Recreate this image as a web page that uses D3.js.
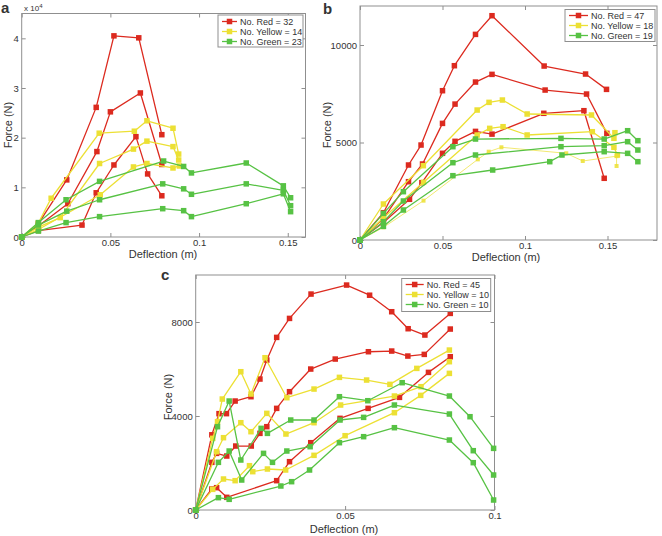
<!DOCTYPE html>
<html><head><meta charset="utf-8">
<script src="https://cdn.jsdelivr.net/npm/d3@7"></script>
<style>
body{margin:0;background:#fff}
svg{display:block}
text{font-family:"Liberation Sans",Arial,Helvetica,sans-serif;fill:#333}
</style>
</head><body>
<svg id="chart" width="662" height="536"></svg>
<script>
// ---------------- DATA ----------------
// Panel a (Force in N)
const aRed = [
  [[0,0],[0.0094,2700],[0.0254,11500],[0.042,26100],[0.052,40500],[0.066,40100],[0.079,20600]],
  [[0,0],[0.0094,2200],[0.026,6700],[0.0424,17200],[0.05,25200],[0.0669,29000],[0.079,14600]],
  [[0,0],[0.0094,1300],[0.034,2400],[0.042,8900],[0.052,14500],[0.0644,20200],[0.071,12700],[0.079,8300]]
];
const aYellow = [
  [[0,0],[0.0094,2800],[0.0166,7800],[0.0437,20900],[0.0635,21300],[0.0706,23400],[0.0853,21900],[0.0885,16700]],
  [[0,0],[0.0094,2000],[0.0217,3900],[0.0439,14800],[0.063,17700],[0.0706,19300],[0.0853,18200],[0.0885,15500]],
  [[0,0],[0.0094,1500],[0.0443,8500],[0.063,14100],[0.0706,14800],[0.0853,13900],[0.0889,14300]]
];
const aGreen = [
  [[0,0],[0.0094,2900],[0.025,7500],[0.0439,11200],[0.08,15300],[0.0913,14200],[0.0957,12900],[0.1266,14900],[0.1475,10300],[0.1516,7900]],
  [[0,0],[0.0094,2400],[0.0254,5200],[0.0439,7500],[0.0795,10700],[0.0913,9700],[0.0957,8600],[0.1266,10700],[0.1475,9400],[0.1516,6300]],
  [[0,0],[0.0094,1200],[0.025,2900],[0.0439,4100],[0.0795,5700],[0.0913,5300],[0.0957,4100],[0.1266,6700],[0.1475,8700],[0.1516,5100]]
];
const aLegend = ["No. Red = 32","No. Yellow = 14","No. Green = 23"];
const aXTicks = [0,0.05,0.1,0.15];
const aYTicks = [0,10000,20000,30000,40000];

// Panel b
const bRed = [
  [[0,0],[0.0142,1400],[0.0294,3846],[0.037,4870],[0.05,7656],[0.0572,8938],[0.07,10545],[0.08,11502],[0.1116,8921],[0.1367,8511],[0.1494,7725]],
  [[0,0],[0.0142,1100],[0.0294,2990],[0.0379,3897],[0.05,5980],[0.0576,6970],[0.07,8100],[0.08,8494],[0.1122,7690],[0.1373,7485],[0.1496,5469]],
  [[0,0],[0.0142,900],[0.03,2087],[0.0375,2940],[0.05,4446],[0.0576,5060],[0.07,5570],[0.08,5430],[0.1114,6497],[0.1357,6631],[0.148,3164]]
];
const bYellow = [
  [[0,0],[0.0142,1846],[0.0384,3811],[0.071,6665],[0.0782,7058],[0.0863,7178],[0.1013,6462],[0.1403,6410],[0.1539,5215],[0.1545,5503]],
  [[0,0],[0.0142,1145],[0.0385,2958],[0.071,5383],[0.0786,5725],[0.0867,5810],[0.1013,5385],[0.1408,5554],[0.1539,4754],[0.156,4359]],
  [[0,0],[0.0142,650],[0.0385,2017],[0.0714,4136],[0.078,4528],[0.0857,4754],[0.125,4446],[0.135,4051],[0.1555,4300],[0.1555,3795]]
];
const bGreen = [
  [[0,0],[0.0142,1367],[0.0263,2478],[0.0563,4785],[0.07,5178],[0.1218,5212],[0.148,5178],[0.1622,5605],[0.1684,5093]],
  [[0,0],[0.0142,940],[0.0263,2000],[0.0563,3965],[0.07,4358],[0.1218,4785],[0.148,4836],[0.1622,5042],[0.1684,4614]],
  [[0,0],[0.0142,700],[0.0263,1538],[0.0563,3298],[0.0804,3589],[0.115,4016],[0.1224,4358],[0.148,4529],[0.1622,4443],[0.1684,4016]]
];
const bLegend = ["No. Red = 47","No. Yellow = 18","No. Green = 19"];
const bXTicks = [0,0.05,0.1,0.15];
const bYTicks = [0,5000,10000];

// Panel c
const cRed = [
  [[0,0],[0.0054,3200],[0.0078,4100],[0.0103,4100],[0.0132,4637],[0.0185,4821],[0.0215,5573],[0.0238,6381],[0.0271,7345],[0.0314,8153],[0.0386,9189],[0.0505,9572],[0.0582,9140],[0.0656,8437],[0.0711,7714],[0.0767,7445],[0.0852,8366]],
  [[0,0],[0.0054,2028],[0.007,2410],[0.0104,2297],[0.0134,2722],[0.0186,2722],[0.0215,3261],[0.0238,3545],[0.0271,4325],[0.0314,5034],[0.0385,5998],[0.0467,6423],[0.0578,6735],[0.0656,6764],[0.071,6551],[0.0765,6622],[0.0852,7700]],
  [[0,0],[0.0054,893],[0.007,950],[0.0104,539],[0.0271,1248],[0.0314,2056],[0.0385,2864],[0.0483,3900],[0.0577,4325],[0.0682,4793],[0.0779,5856],[0.0852,6523]]
];
const cYellow = [
  [[0,0],[0.0057,3049],[0.0073,3758],[0.0089,4722],[0.0151,5885],[0.0185,4935],[0.0232,6480],[0.0305,4779],[0.0396,5147],[0.0481,5644],[0.0572,5530],[0.065,5346],[0.074,6026],[0.0849,6806]],
  [[0,0],[0.007,2481],[0.0093,3077],[0.0151,3715],[0.0185,3332],[0.0238,4112],[0.0302,3233],[0.0396,3715],[0.0485,4467],[0.0665,4850],[0.0754,5247],[0.0849,6310]],
  [[0,0],[0.0057,879],[0.0093,1319],[0.0132,1248],[0.018,1886],[0.0191,1631],[0.024,1744],[0.0301,1702],[0.0396,2326],[0.05,3162],[0.0665,4140],[0.0753,4878],[0.0849,5814]]
];
const cGreen = [
  [[0,0],[0.0073,3545],[0.0112,4637],[0.0151,2127],[0.0219,3474],[0.024,3261],[0.0318,3829],[0.0396,3829],[0.0481,4821],[0.0576,4651],[0.0691,5417],[0.0849,4850],[0.0918,3970],[0.0997,2623]],
  [[0,0],[0.0076,2028],[0.0112,2510],[0.0154,1276],[0.0227,2410],[0.0257,2028],[0.0305,2510],[0.0383,2694],[0.0483,3829],[0.0562,3942],[0.0665,4467],[0.0849,4084],[0.0929,2524],[0.0997,1489]],
  [[0,0],[0.0076,525],[0.0112,454],[0.0285,1021],[0.0321,1205],[0.0381,1702],[0.0481,2864],[0.0562,3120],[0.0665,3502],[0.0849,2978],[0.0929,2014],[0.0997,425]]
];
const cLegend = ["No. Red = 45","No. Yellow = 10","No. Green = 10"];
const cXTicks = [0,0.05,0.1];
const cYTicks = [0,4000,8000];

const xLabel = "Deflection (m)";
const yLabel = "Force (N)";

// ---------------- STYLE ----------------
const COL = {red:"#dc2a1f", yellow:"#ece034", green:"#57c244"};
const FRAME = "#8f8f8f";

const svg = d3.select("#chart");

function drawPanel(o){
  const x = d3.scaleLinear().domain(o.xDomain).range([o.left,o.right]);
  const y = d3.scaleLinear().domain(o.yDomain).range([o.bottom,o.top]);
  const g = svg.append("g");
  const fx = d => String(d);
  const fy = o.yFormat || (d => String(d));

  const styleAxis = sel => {
    sel.select(".domain").remove();
    sel.selectAll(".tick line").attr("stroke",FRAME);
    sel.selectAll(".tick text").style("font-size","9.5px").attr("fill","#333");
  };
  g.append("g").attr("transform",`translate(0,${o.bottom})`)
    .call(d3.axisBottom(x).tickValues(o.xTicks).tickSize(-4).tickPadding(2).tickFormat(fx)).call(styleAxis);
  g.append("g").attr("transform",`translate(0,${o.top})`)
    .call(d3.axisTop(x).tickValues(o.xTicks).tickSize(-4).tickFormat("")).call(styleAxis);
  g.append("g").attr("transform",`translate(${o.left},0)`)
    .call(d3.axisLeft(y).tickValues(o.yTicks).tickSize(-4).tickPadding(3).tickFormat(fy)).call(styleAxis);
  g.append("g").attr("transform",`translate(${o.right},0)`)
    .call(d3.axisRight(y).tickValues(o.yTicks).tickSize(-4).tickFormat("")).call(styleAxis);

  g.append("rect").attr("x",o.left).attr("y",o.top)
    .attr("width",o.right-o.left).attr("height",o.bottom-o.top)
    .attr("fill","none").attr("stroke",FRAME).attr("stroke-width",1);

  const line = d3.line().x(d=>x(d[0])).y(d=>y(d[1]));
  o.groups.forEach(gr => {
    gr.series.forEach((s,i) => {
      const thin = gr.thin && gr.thin[i];
      const sw = thin ? 0.7 : 1.3;
      const ms = thin ? 4 : 5.5;
      g.append("path").datum(s).attr("d",line).attr("fill","none")
        .attr("stroke",gr.color).attr("stroke-width",sw).attr("stroke-linejoin","round");
      g.selectAll(null).data(s).enter().append("rect")
        .attr("x",d=>x(d[0])-ms/2).attr("y",d=>y(d[1])-ms/2)
        .attr("width",ms).attr("height",ms).attr("fill",gr.color)
        .attr("opacity", thin ? 0.85 : 1);
    });
  });

  // legend
  const L = o.legend;
  g.append("rect").attr("x",L.x).attr("y",L.y).attr("width",L.w).attr("height",L.h)
    .attr("fill","#fff").attr("stroke",FRAME).attr("stroke-width",1);
  L.labels.forEach((t,i) => {
    const yy = L.y + L.first + i*L.step;
    const c = L.colors[i];
    g.append("line").attr("x1",L.x+4).attr("x2",L.x+L.lineLen+4).attr("y1",yy).attr("y2",yy)
      .attr("stroke",c).attr("stroke-width",1.3);
    g.append("rect").attr("x",L.x+4+L.lineLen/2-2.75).attr("y",yy-2.75).attr("width",5.5).attr("height",5.5).attr("fill",c);
    g.append("text").attr("x",L.x+L.lineLen+7).attr("y",yy+3.2).style("font-size","9px").text(t);
  });

  // axis labels
  g.append("text").attr("x",o.xl[0]).attr("y",o.xl[1]).attr("text-anchor","middle")
    .style("font-size","11px").text(xLabel);
  g.append("text").attr("transform",`translate(${o.yl[0]},${o.yl[1]}) rotate(-90)`)
    .attr("text-anchor","middle").style("font-size","11px").text(yLabel);
  // panel letter
  g.append("text").attr("x",o.letter[0]).attr("y",o.letter[1])
    .style("font-size","15px").style("font-weight","bold").attr("fill","#111").text(o.letter[2]);
  return {x,y,g};
}

const legCols = [COL.red, COL.yellow, COL.green];

const pa = drawPanel({
  left:21.7, right:305.5, top:13.5, bottom:237,
  xDomain:[0,0.16], yDomain:[0,45000], xTicks:aXTicks, yTicks:aYTicks,
  yFormat: d => String(d/10000),
  groups:[{color:COL.red,series:aRed},{color:COL.yellow,series:aYellow},{color:COL.green,series:aGreen}],
  legend:{x:218,y:15,w:85,h:32,first:6.5,step:10,lineLen:15,labels:aLegend,colors:legCols},
  xl:[163,257.5], yl:[12,125], letter:[1,13,"a"]
});
// exponent label
const ex = pa.g.append("text").attr("x",24).attr("y",10.5).style("font-size","8px");
ex.append("tspan").text("x 10");
ex.append("tspan").attr("dy",-3).style("font-size","6px").text("4");

drawPanel({
  left:360, right:657, top:6, bottom:240,
  xDomain:[0,0.18], yDomain:[0,12000], xTicks:bXTicks, yTicks:bYTicks,
  groups:[{color:COL.red,series:bRed},{color:COL.yellow,series:bYellow,thin:[false,false,true]},{color:COL.green,series:bGreen}],
  legend:{x:565,y:9.5,w:90,h:32,first:6,step:10,lineLen:19,labels:bLegend,colors:legCols},
  xl:[506,261], yl:[331,125], letter:[323,14,"b"]
});

drawPanel({
  left:195.7, right:494.5, top:275, bottom:510,
  xDomain:[0,0.1], yDomain:[0,10000], xTicks:cXTicks, yTicks:cYTicks,
  groups:[{color:COL.red,series:cRed},{color:COL.yellow,series:cYellow},{color:COL.green,series:cGreen}],
  legend:{x:401.7,y:278.5,w:89,h:33,first:6,step:10,lineLen:18,labels:cLegend,colors:legCols},
  xl:[344,532.5], yl:[172,397], letter:[161,280,"c"]
});
</script>
</body></html>
